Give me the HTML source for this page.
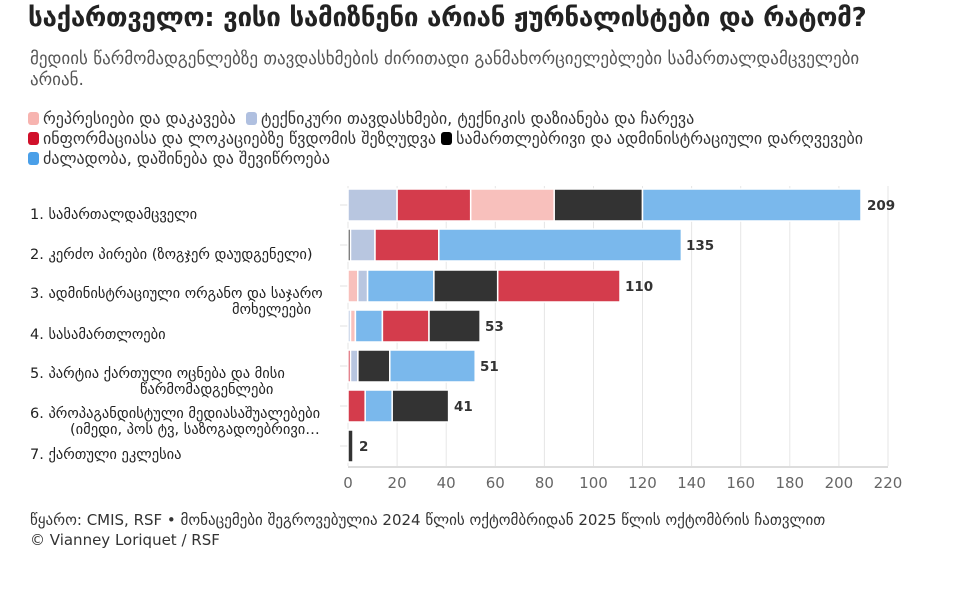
<!DOCTYPE html>
<html><head><meta charset="utf-8">
<style>
body{margin:0;background:#fff;width:966px;height:612px;overflow:hidden;font-family:"DejaVu Sans","Liberation Sans",sans-serif;color:#222;}
.t{position:absolute;white-space:nowrap;}
#title{left:28px;top:3px;font-size:26px;font-weight:bold;color:#222;letter-spacing:-0.3px}
#sub{left:30px;top:49px;font-size:17px;color:#555;line-height:21px;white-space:normal;width:880px}
.lg{position:absolute;font-size:16px;color:#333;white-space:nowrap;}
.lg i{display:inline-block;width:11px;height:13px;border-radius:3px;vertical-align:-1px;margin-right:4px}
#foot{left:30px;top:510px;font-size:15px;color:#333;line-height:20px}
</style></head><body>
<div class="t" id="title">საქართველო: ვისი სამიზნენი არიან ჟურნალისტები და რატომ?</div>
<div class="t" id="sub">მედიის წარმომადგენლებზე თავდასხმების ძირითადი განმახორციელებლები სამართალდამცველები არიან.</div>
<div class="lg" style="left:28px;top:109px"><i style="background:#f7b4b0"></i>რეპრესიები და დაკავება &nbsp;<i style="background:#b0c0e0"></i>ტექნიკური თავდასხმები, ტექნიკის დაზიანება და ჩარევა</div>
<div class="lg" style="left:28px;top:129px"><i style="background:#d0102a"></i>ინფორმაციასა და ლოკაციებზე წვდომის შეზღუდვა <i style="background:#000"></i>სამართლებრივი და ადმინისტრაციული დარღვევები</div>
<div class="lg" style="left:28px;top:149px"><i style="background:#4a9fe8"></i>ძალადობა, დაშინება და შევიწროება</div>

<svg style="position:absolute;left:0;top:0" width="966" height="612" font-family="DejaVu Sans, Liberation Sans, sans-serif">
<g stroke="#e6e6e6" stroke-width="1">
<line x1="348" y1="186" x2="348" y2="466"/><line x1="397.1" y1="186" x2="397.1" y2="466"/><line x1="446.2" y1="186" x2="446.2" y2="466"/><line x1="495.3" y1="186" x2="495.3" y2="466"/><line x1="544.4" y1="186" x2="544.4" y2="466"/><line x1="593.5" y1="186" x2="593.5" y2="466"/><line x1="642.5" y1="186" x2="642.5" y2="466"/><line x1="691.6" y1="186" x2="691.6" y2="466"/><line x1="740.7" y1="186" x2="740.7" y2="466"/><line x1="789.8" y1="186" x2="789.8" y2="466"/><line x1="838.9" y1="186" x2="838.9" y2="466"/><line x1="888" y1="186" x2="888" y2="466"/>
</g>
<line x1="348" y1="467" x2="888" y2="467" stroke="#ddd" stroke-width="2"/>
<g stroke="#e0e0e0"><line x1="340" y1="205" x2="348" y2="205"/><line x1="340" y1="245" x2="348" y2="245"/><line x1="340" y1="286" x2="348" y2="286"/><line x1="340" y1="326" x2="348" y2="326"/><line x1="340" y1="366" x2="348" y2="366"/><line x1="340" y1="406" x2="348" y2="406"/><line x1="340" y1="446" x2="348" y2="446"/></g>
<g font-size="15" fill="#666" text-anchor="middle">
<text x="348" y="488">0</text><text x="397.1" y="488">20</text><text x="446.2" y="488">40</text><text x="495.3" y="488">60</text><text x="544.4" y="488">80</text><text x="593.5" y="488">100</text><text x="642.5" y="488">120</text><text x="691.6" y="488">140</text><text x="740.7" y="488">160</text><text x="789.8" y="488">180</text><text x="838.9" y="488">200</text><text x="888" y="488">220</text>
</g>
<g stroke="#fff" stroke-width="1.5">
<rect x="348" y="189" width="49.1" height="32" fill="#b8c6e0"/>
<rect x="397.1" y="189" width="73.6" height="32" fill="#d43c4c"/>
<rect x="470.7" y="189" width="83.5" height="32" fill="#f8c0bc"/>
<rect x="554.2" y="189" width="88.3" height="32" fill="#333"/>
<rect x="642.5" y="189" width="218.5" height="32" fill="#7ab8ec"/>
<rect x="348" y="229" width="2.5" height="32" fill="#333"/>
<rect x="350.5" y="229" width="24.5" height="32" fill="#b8c6e0"/>
<rect x="375" y="229" width="63.8" height="32" fill="#d43c4c"/>
<rect x="438.8" y="229" width="242.6" height="32" fill="#7ab8ec"/>
<rect x="348" y="270" width="9.8" height="32" fill="#f8c0bc"/>
<rect x="357.8" y="270" width="9.8" height="32" fill="#b8c6e0"/>
<rect x="367.6" y="270" width="66.3" height="32" fill="#7ab8ec"/>
<rect x="433.9" y="270" width="63.8" height="32" fill="#333"/>
<rect x="497.7" y="270" width="122.3" height="32" fill="#d43c4c"/>
<rect x="348" y="310" width="2.5" height="32" fill="#b8c6e0"/>
<rect x="350.5" y="310" width="4.9" height="32" fill="#f8c0bc"/>
<rect x="355.4" y="310" width="27" height="32" fill="#7ab8ec"/>
<rect x="382.4" y="310" width="46.6" height="32" fill="#d43c4c"/>
<rect x="429" y="310" width="51.1" height="32" fill="#333"/>
<rect x="348" y="350" width="2.5" height="32" fill="#d43c4c"/>
<rect x="350.5" y="350" width="7.4" height="32" fill="#b8c6e0"/>
<rect x="357.9" y="350" width="31.9" height="32" fill="#333"/>
<rect x="389.8" y="350" width="85.4" height="32" fill="#7ab8ec"/>
<rect x="348" y="390" width="17.2" height="32" fill="#d43c4c"/>
<rect x="365.2" y="390" width="27" height="32" fill="#7ab8ec"/>
<rect x="392.2" y="390" width="56.4" height="32" fill="#333"/>
<rect x="348" y="430" width="5" height="32" fill="#333"/>
</g>
<g font-size="13.5" font-weight="bold" fill="#333">
<text x="867" y="210">209</text><text x="686" y="250">135</text><text x="625" y="291">110</text><text x="485" y="331">53</text><text x="480" y="371">51</text><text x="454" y="411">41</text><text x="359" y="451">2</text>
</g>
<g font-size="14.5" fill="#222">
<text x="30" y="219">1. სამართალდამცველი</text>
<text x="30" y="259">2. კერძო პირები (ზოგჯერ დაუდგენელი)</text>
<text x="30" y="298">3. ადმინისტრაციული ორგანო და საჯარო</text>
<text x="232" y="314">მოხელეები</text>
<text x="30" y="339">4. სასამართლოები</text>
<text x="30" y="378">5. პარტია ქართული ოცნება და მისი</text>
<text x="140" y="394">წარმომადგენლები</text>
<text x="30" y="418">6. პროპაგანდისტული მედიასაშუალებები</text>
<text x="70" y="434">(იმედი, პოს ტვ, საზოგადოებრივი…</text>
<text x="30" y="459">7. ქართული ეკლესია</text>
</g>
</svg>
<div class="t" id="foot">წყარო: CMIS, RSF • მონაცემები შეგროვებულია 2024 წლის ოქტომბრიდან 2025 წლის ოქტომბრის ჩათვლით<br>© Vianney Loriquet / RSF</div>
</body></html>
